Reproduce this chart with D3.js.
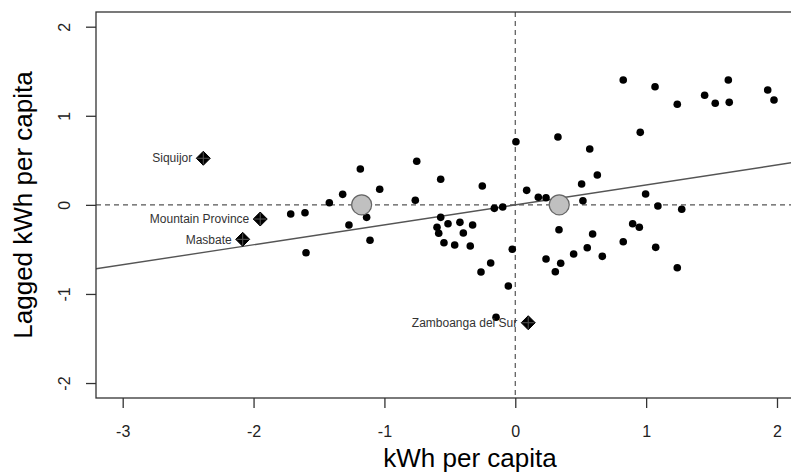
<!DOCTYPE html>
<html>
<head>
<meta charset="utf-8">
<script src="https://cdn.jsdelivr.net/npm/d3@7"></script>
<style>
  body { margin: 0; background: #fff; }
  svg { display: block; font-family: 'Liberation Sans', Arial, sans-serif; }
</style>
</head>
<body>
<svg id="chart"></svg>
<script>
// standardized kWh per capita (x) and its spatial lag (y)
const kwh = [0.005, -1.716, -1.607, -1.599, -1.421, -1.319, -1.184, -1.136, -1.271, -1.110,
  -1.036, -0.753, -0.764, -0.570, -0.570, -0.598, -0.585, -0.514, -0.423, -0.326,
  -0.397, -0.545, -0.463, -0.344, -0.252, -0.160, -0.096, 0.087, 0.176, -0.023,
  -0.188, -0.262, -0.053, -0.147,
  0.825, 1.068, 1.238, 1.447, 1.528, 1.628, 1.635, 1.929, 1.977, 0.326,
  0.569, 0.955, 0.627, 0.507, 0.235, 0.517, 0.996, 1.090, 1.272, 0.334,
  0.591, 0.897, 0.948, 0.825, 1.073, 0.235, 0.347, 0.306, 0.446, 0.550,
  0.665, 1.238];
const laggedKwh = [0.709, -0.103, -0.088, -0.537, 0.024, 0.118, 0.402, -0.140, -0.226, -0.398,
  0.175, 0.489, 0.051, 0.287, -0.140, -0.252, -0.319, -0.212, -0.196, -0.226,
  -0.316, -0.425, -0.451, -0.462, 0.212, -0.039, -0.024, 0.163, 0.085, -0.499,
  -0.653, -0.754, -0.911, -1.262,
  1.402, 1.326, 1.129, 1.230, 1.140, 1.402, 1.151, 1.289, 1.177, 0.762,
  0.627, 0.814, 0.335, 0.234, 0.080, 0.047, 0.122, -0.013, -0.050, -0.279,
  -0.327, -0.212, -0.252, -0.414, -0.477, -0.608, -0.656, -0.750, -0.552, -0.481,
  -0.578, -0.706];

// influential provinces
const influentialNames = ['Siquijor', 'Mountain Province', 'Masbate', 'Zamboanga del Sur'];
const influentialX = [-2.384, -1.949, -2.083, 0.099];
const influentialY = [0.523, -0.159, -0.387, -1.323];

// grey reference circles
const centerX = [-1.174, 0.336];
const centerY = [0, 0];

// Moran's I regression line
const slope = 0.224;
const intercept = 0;

const xTicks = [-3, -2, -1, 0, 1, 2];
const yTicks = [-2, -1, 0, 1, 2];
const xDomain = [-3.204, 2.512];
const yDomain = [-2.168, 2.165];

const config = {
  containerWidth: 791,
  containerHeight: 474,
  margin: {top: 12, left: 96, bottom: 76},
  plotWidth: 748
};

const width = config.plotWidth;
const height = config.containerHeight - config.margin.top - config.margin.bottom;

const svg = d3.select('#chart')
  .attr('width', config.containerWidth)
  .attr('height', config.containerHeight);

const chart = svg.append('g')
  .attr('transform', `translate(${config.margin.left}, ${config.margin.top})`);

const xScale = d3.scaleLinear().domain(xDomain).range([0, width]);
const yScale = d3.scaleLinear().domain(yDomain).range([height, 0]);

chart.append('clipPath').attr('id', 'plot-clip')
  .append('rect').attr('width', width).attr('height', height);

const plot = chart.append('g').attr('clip-path', 'url(#plot-clip)');

// dashed zero lines
plot.append('line')
  .attr('x1', xScale(0)).attr('x2', xScale(0))
  .attr('y1', 0).attr('y2', height)
  .attr('stroke', '#555').attr('stroke-width', 1.2).attr('stroke-dasharray', '5,4');
plot.append('line')
  .attr('x1', 0).attr('x2', width)
  .attr('y1', yScale(0)).attr('y2', yScale(0))
  .attr('stroke', '#555').attr('stroke-width', 1.2).attr('stroke-dasharray', '5,4');

// regression line
plot.append('line')
  .attr('x1', xScale(xDomain[0])).attr('y1', yScale(intercept + slope * xDomain[0]))
  .attr('x2', xScale(xDomain[1])).attr('y2', yScale(intercept + slope * xDomain[1]))
  .attr('stroke', '#555').attr('stroke-width', 1.4);

// points
const points = kwh.map((x, i) => ({x: x, y: laggedKwh[i]}));
plot.selectAll('.point')
  .data(points)
  .join('circle')
  .attr('class', 'point')
  .attr('cx', d => xScale(d.x))
  .attr('cy', d => yScale(d.y))
  .attr('r', 3.8)
  .attr('fill', '#000');

// influential points: filled diamond with faint plus
const infl = influentialNames.map((n, i) => ({name: n, x: influentialX[i], y: influentialY[i]}));
const inflG = plot.selectAll('.infl')
  .data(infl)
  .join('g')
  .attr('class', 'infl')
  .attr('transform', d => `translate(${xScale(d.x)}, ${yScale(d.y)})`);
inflG.append('path')
  .attr('d', 'M0,-7L7,0L0,7L-7,0Z')
  .attr('fill', '#000').attr('stroke', '#000').attr('stroke-width', 1);
inflG.append('path')
  .attr('d', 'M0,-6L0,6 M-6,0L6,0')
  .attr('stroke', '#555').attr('stroke-width', 1);
inflG.append('text')
  .attr('x', -11)
  .attr('dy', '0.35em')
  .attr('text-anchor', 'end')
  .attr('font-size', 12)
  .attr('fill', '#333')
  .text(d => d.name);

// grey circles
plot.selectAll('.center')
  .data(centerX.map((x, i) => ({x: x, y: centerY[i]})))
  .join('circle')
  .attr('class', 'center')
  .attr('cx', d => xScale(d.x))
  .attr('cy', d => yScale(d.y))
  .attr('r', 10)
  .attr('fill', '#c0c0c0')
  .attr('stroke', '#666')
  .attr('stroke-width', 1.2);

// frame
chart.append('rect')
  .attr('width', width).attr('height', height)
  .attr('fill', 'none').attr('stroke', '#333').attr('stroke-width', 1.3);

// axes (plain hyphen minus like R)
const fmt = d => String(d);
const xAxis = d3.axisBottom(xScale).tickValues(xTicks).tickSize(10).tickFormat(fmt);
const yAxis = d3.axisLeft(yScale).tickValues(yTicks).tickSize(10).tickFormat(fmt);

const xGroup = chart.append('g')
  .attr('transform', `translate(0, ${height})`)
  .call(xAxis);
xGroup.select('.domain').remove();
xGroup.selectAll('.tick line').attr('stroke', '#333').attr('stroke-width', 1.3);
xGroup.selectAll('.tick text')
  .attr('y', 39).attr('dy', 0)
  .attr('font-size', 16).attr('fill', '#222')
  .attr('font-family', "'Liberation Sans', Arial, sans-serif");

const yGroup = chart.append('g').call(yAxis);
yGroup.select('.domain').remove();
yGroup.selectAll('.tick line').attr('stroke', '#333').attr('stroke-width', 1.3);
yGroup.selectAll('.tick text')
  .attr('x', 0).attr('dy', 0)
  .attr('text-anchor', 'middle')
  .attr('transform', 'translate(-26, 0) rotate(-90)')
  .attr('font-size', 16).attr('fill', '#222')
  .attr('font-family', "'Liberation Sans', Arial, sans-serif");

// titles
chart.append('text')
  .attr('x', width / 2)
  .attr('y', height + 69)
  .attr('text-anchor', 'middle')
  .attr('font-size', 26)
  .attr('fill', '#000')
  .text('kWh per capita');

chart.append('text')
  .attr('transform', `translate(${32 - config.margin.left}, ${height / 2}) rotate(-90)`)
  .attr('text-anchor', 'middle')
  .attr('font-size', 26)
  .attr('fill', '#000')
  .text('Lagged kWh per capita');
</script>
</body>
</html>
